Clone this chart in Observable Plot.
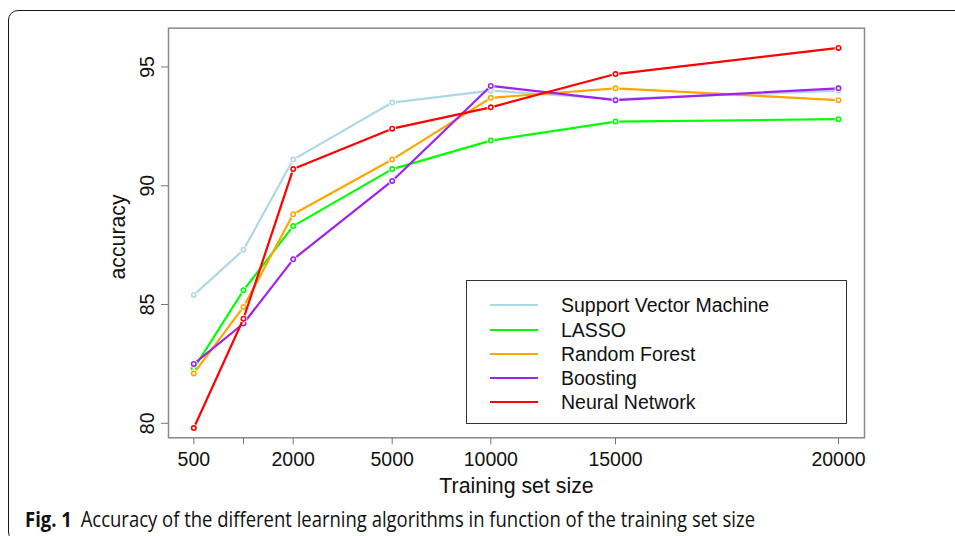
<!DOCTYPE html>
<html>
<head>
<meta charset="utf-8">
<script src="https://cdn.jsdelivr.net/npm/d3@7"></script>
<script src="https://cdn.jsdelivr.net/npm/@observablehq/plot@0.6"></script>
<style>
  html, body { margin: 0; padding: 0; background: #fff; }
  body { width: 955px; height: 536px; overflow: hidden; position: relative; font-family: "Liberation Sans", Arial, sans-serif; }
  #border { position: absolute; left: 8px; top: 10px; width: 1000px; height: 532px; border: 1.3px solid #1a1a1a; border-radius: 10px; box-sizing: border-box; }
  #chart { position: absolute; left: 0; top: 0; }
  #legend { position: absolute; left: 466px; top: 280px; width: 381px; height: 144px; border: 1.2px solid #333; box-sizing: border-box; background: #fff; }
  .row { position: absolute; left: 0; height: 24px; width: 100%; }
  .sw { position: absolute; left: 23px; width: 48px; height: 0; border-top: 2.5px solid; top: 11px; }
  .lab { position: absolute; left: 94px; top: 0; line-height: 24px; font-size: 19.5px; color: #111; white-space: nowrap; }
  #caption { position: absolute; left: 25px; top: 505px; font-family: "Open Sans", "Noto Sans", sans-serif; font-size: 21px; color: #111; white-space: nowrap; transform-origin: 0 0; }
  #caption b { font-weight: 700; margin-right: 10px; }
</style>
</head>
<body>
<div id="border"></div>
<div id="chart"></div>
<div id="legend"></div>
<div id="caption"><b>Fig. 1</b>Accuracy of the different learning algorithms in function of the training set size</div>
<script>
// ---- data ----
const sizes = [500, 1000, 2000, 5000, 10000, 15000, 20000];
const tickLabels = ["500", "", "2000", "5000", "10000", "15000", "20000"];
const yTicks = [80, 85, 90, 95];
const models = ["Support Vector Machine", "LASSO", "Random Forest", "Boosting", "Neural Network"];
const colors = ["#ADD8E6", "#00FF00", "#FFA500", "#A020F0", "#FF0000"];
const svm      = [85.4, 87.3, 91.1, 93.5, 94.0, 93.65, 94.0];
const lasso    = [82.3, 85.6, 88.3, 90.7, 91.9, 92.7, 92.8];
const rforest  = [82.1, 84.9, 88.8, 91.1, 93.7, 94.1, 93.6];
const boosting = [82.5, 84.2, 86.9, 90.2, 94.2, 93.6, 94.1];
const neural   = [79.8, 84.4, 90.7, 92.4, 93.3, 94.7, 95.8];
const series = [svm, lasso, rforest, boosting, neural];

const table = [];
series.forEach((vals, k) => vals.forEach((v, i) => table.push({model: models[k], size: sizes[i], acc: v})));

// ---- layout ----
const W = 955, H = 500;
const xRange = [193.3, 243, 292.7, 391.7, 490.3, 615, 838];

const marks = [
  Plot.frame({stroke: "#8a8a8a", strokeWidth: 1.5}),
  Plot.axisX({ticks: sizes, tickSize: 7, tickFormat: () => "", stroke: "#777", label: null}),
  Plot.axisY({ticks: yTicks, tickSize: 7, tickFormat: () => "", stroke: "#777", label: null}),
  Plot.text(sizes, {x: d => d, text: (d, i) => tickLabels[i], frameAnchor: "bottom", dy: 22, lineAnchor: "middle", fontSize: 19.5, fill: "#111"}),
  Plot.text(yTicks, {y: d => d, text: d => String(d), frameAnchor: "left", dx: -21, rotate: -90, textAnchor: "middle", lineAnchor: "middle", fontSize: 19.5, fill: "#111"}),
  Plot.text(["Training set size"], {frameAnchor: "bottom", dy: 48, lineAnchor: "middle", fontSize: 21.3, fill: "#111"}),
  Plot.text(["accuracy"], {frameAnchor: "left", dx: -50, dy: 4, rotate: -90, textAnchor: "middle", lineAnchor: "middle", fontSize: 21.3, fill: "#111"})
];
models.forEach((m, k) => {
  const d = table.filter(r => r.model === m);
  marks.push(Plot.line(d, {x: "size", y: "acc", stroke: colors[k], strokeWidth: 2.2}));
  marks.push(Plot.dot(d, {x: "size", y: "acc", r: 3.8, fill: "white", stroke: null}));
  marks.push(Plot.dot(d, {x: "size", y: "acc", r: 2.2, fill: "white", stroke: colors[k], strokeWidth: 1.6}));
});

const chart = Plot.plot({
  width: W,
  height: H,
  marginLeft: 168,
  marginRight: 91,
  marginTop: 27.7,
  marginBottom: 62.7,
  style: {fontFamily: "'Liberation Sans', Arial, sans-serif", background: "transparent", overflow: "visible"},
  x: {type: "linear", domain: sizes, range: xRange},
  y: {domain: [79.39, 96.63]},
  marks
});
document.getElementById("chart").appendChild(chart);

// legend
const leg = document.getElementById("legend");
const rowTops = [12.3, 37, 60.7, 84.7, 109];
models.forEach((m, k) => {
  const row = document.createElement("div");
  row.className = "row";
  row.style.top = rowTops[k] + "px";
  row.innerHTML = `<div class="sw" style="border-color:${colors[k]}"></div><div class="lab">${m}</div>`;
  leg.appendChild(row);
});

// fit caption width
const cap = document.getElementById("caption");
const w = cap.getBoundingClientRect().width;
cap.style.transform = `scaleX(${730 / w})`;
</script>
</body>
</html>
